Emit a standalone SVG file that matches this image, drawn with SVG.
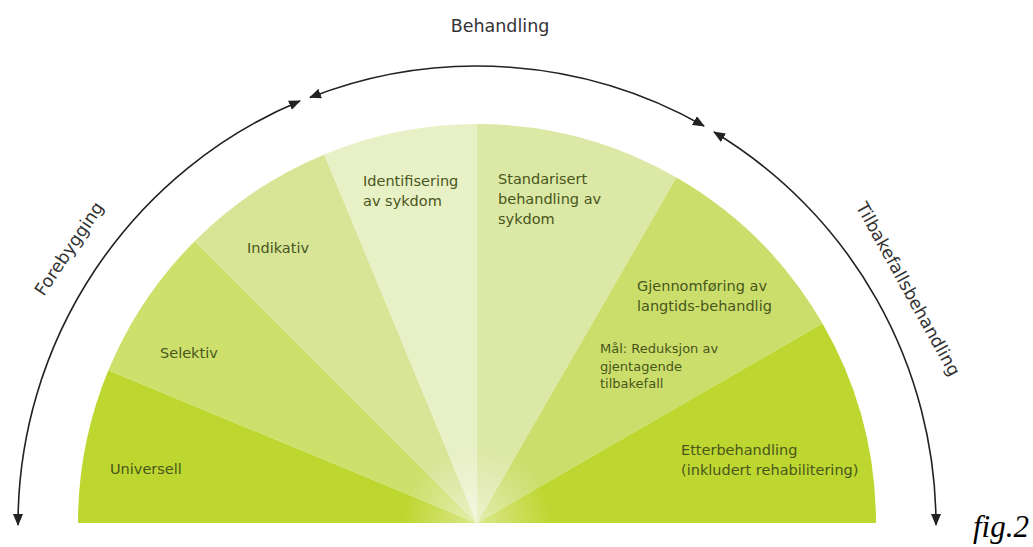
<svg xmlns="http://www.w3.org/2000/svg" width="1033" height="547" viewBox="0 0 1033 547">
<style>
.lbl{font-family:"DejaVu Sans","Verdana",sans-serif;font-size:14.5px;fill:#48561c}
.sm{font-size:13px}
.arc{fill:none;stroke:#222;stroke-width:1.6;marker-start:url(#ah);marker-end:url(#ah)}
.big{font-family:"DejaVu Sans",sans-serif;font-size:17.5px;fill:#333}
.fig{font-family:"Liberation Serif","Times New Roman",serif;font-style:italic;font-size:31px;fill:#000}
</style>
<defs>
<marker id="ah" viewBox="0 0 12 10" refX="11" refY="5" markerWidth="12" markerHeight="10" markerUnits="userSpaceOnUse" orient="auto-start-reverse">
<path d="M0,0 L12,5 L0,10 Z" fill="#222"/>
</marker>
<radialGradient id="glow" cx="477" cy="523" r="75" gradientUnits="userSpaceOnUse">
<stop offset="0" stop-color="#fff" stop-opacity="0.45"/>
<stop offset="1" stop-color="#fff" stop-opacity="0"/>
</radialGradient>
</defs>
<rect width="1033" height="547" fill="#fff"/>

<g id="universell">
<path d="M477,523 L78,523 A399,399 0 0 1 108.4,370.3 Z" fill="#bed630"/>
<text class="lbl" x="110" y="474">Universell</text>
</g>
<g id="selektiv">
<path d="M477,523 L108.4,370.3 A399,399 0 0 1 194.9,240.9 Z" fill="#cde06c"/>
<text class="lbl" x="160" y="358">Selektiv</text>
</g>
<g id="indikativ">
<path d="M477,523 L194.9,240.9 A399,399 0 0 1 324.3,154.4 Z" fill="#d8e597"/>
<text class="lbl" x="247" y="253">Indikativ</text>
</g>
<g id="identifisering">
<path d="M477,523 L324.3,154.4 A399,399 0 0 1 477,124 Z" fill="#e8f0c6"/>
<text class="lbl" x="363" y="186">Identifisering</text>
<text class="lbl" x="363" y="206">av sykdom</text>
</g>
<g id="standarisert">
<path d="M477,523 L477,124 A399,399 0 0 1 676.5,177.5 Z" fill="#dce8a5"/>
<text class="lbl" x="498" y="184">Standarisert</text>
<text class="lbl" x="498" y="204">behandling av</text>
<text class="lbl" x="498" y="224">sykdom</text>
</g>
<g id="gjennomforing">
<path d="M477,523 L676.5,177.5 A399,399 0 0 1 822.5,323.5 Z" fill="#cbde6b"/>
<text class="lbl" x="637" y="291">Gjennomføring av</text>
<text class="lbl" x="637" y="311">langtids-behandlig</text>
<text class="lbl sm" x="600" y="353">Mål: Reduksjon av</text>
<text class="lbl sm" x="600" y="371">gjentagende</text>
<text class="lbl sm" x="600" y="388">tilbakefall</text>
</g>
<g id="etterbehandling">
<path d="M477,523 L822.5,323.5 A399,399 0 0 1 876,523 Z" fill="#bed630"/>
<text class="lbl" x="681" y="455">Etterbehandling</text>
<text class="lbl" x="681" y="475">(inkludert rehabilitering)</text>
</g>
<path d="M78,523 A399,399 0 0 1 876,523 Z" fill="url(#glow)"/>

<g id="connectors">
<path id="forebygging-arc" class="arc" d="M18,525 A459,459 0 0 1 300,101"/>
<path id="behandling-arc" class="arc" d="M310,97.5 A459,459 0 0 1 704,126"/>
<path id="tilbake-arc" class="arc" d="M714,132 A459,459 0 0 1 936,525"/>
</g>

<g id="forebygging">
<text class="big" text-anchor="middle" transform="translate(74,252) rotate(-56)">Forebygging</text>
</g>
<g id="behandling">
<text class="big" text-anchor="middle" x="500" y="32">Behandling</text>
</g>
<g id="tilbakefallsbehandling">
<text class="big" text-anchor="middle" transform="translate(903,292) rotate(61)">Tilbakefallsbehandling</text>
</g>
<text class="fig" x="973" y="537">fig.2</text>
</svg>
